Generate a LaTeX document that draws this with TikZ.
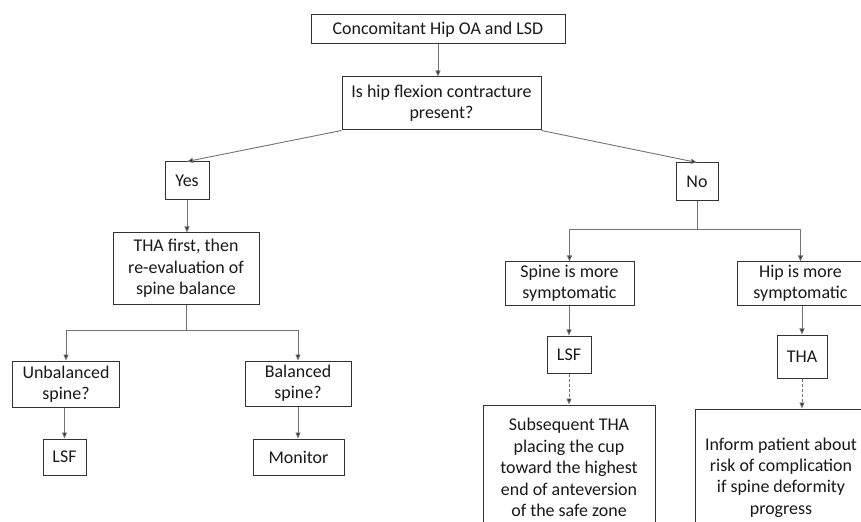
\documentclass[tikz,border=0pt]{standalone}
\usepackage{fontspec}
\setmainfont{Carlito}
\usetikzlibrary{arrows.meta}
\begin{document}
\begin{tikzpicture}[x=1bp,y=-1bp,
  box/.style={draw=black!80, line width=1bp, rectangle, inner sep=0pt, align=center,
    font=\fontsize{18}{21.5}\selectfont, text=black!90},
  conn/.style={draw=black!55, line width=0.9bp, -{Triangle[length=6bp,width=5bp,fill=black!85]}},
  dconn/.style={conn, dashed, dash pattern=on 3bp off 2bp}]
\clip (0,0) rectangle (861,522);
\fill[white] (0,0) rectangle (861,522);

\node[box, minimum width=254bp, minimum height=29bp] (top) at (438,29.5) {Concomitant Hip OA and LSD};
\node[box, minimum width=199bp, minimum height=53bp] (q) at (441.5,103.5) {Is hip flexion contracture\\present?};
\node[box, minimum width=44bp, minimum height=38bp] (yes) at (187,181) {Yes};
\node[box, minimum width=42bp, minimum height=38bp] (no) at (697,182) {No};
\node[box, minimum width=146bp, minimum height=71bp] (tha1) at (186,268.5) {THA first, then\\re-evaluation of\\spine balance};
\node[box, minimum width=106bp, minimum height=46bp] (unb) at (66,384) {Unbalanced\\spine?};
\node[box, minimum width=106bp, minimum height=45bp] (bal) at (298,383.5) {Balanced\\spine?};
\node[box, minimum width=43bp, minimum height=36bp] (lsfa) at (64.5,457) {LSF};
\node[box, minimum width=91bp, minimum height=36bp] (mon) at (298.5,457) {Monitor};
\node[box, minimum width=129bp, minimum height=43bp] (spine) at (569.5,283.5) {Spine is more\\symptomatic};
\node[box, minimum width=127bp, minimum height=43bp] (hip) at (800.5,283.5) {Hip is more\\symptomatic};
\node[box, minimum width=44bp, minimum height=37bp] (lsfb) at (569,354.5) {LSF};
\node[box, minimum width=50bp, minimum height=43bp] (tha2) at (802,356.5) {THA};
\node[box, minimum width=172bp, minimum height=125bp] (subs) at (569,467.5) {Subsequent THA\\placing the cup\\toward the highest\\end of anteversion\\of the safe zone};
\node[box, minimum width=172bp, minimum height=137bp] (inf) at (781,477.5) {Inform patient about\\risk of complication\\if spine deformity\\progress};

\draw[conn] (top.south) -- (top.south |- q.north);
\draw[conn] (q.south west) -- (yes.north);
\draw[conn] (q.south east) -- (no.north);
\draw[conn] (yes.south) -- (tha1.north -| yes.south);
\draw[conn] (tha1.south) -- ++(0,26) -| (unb.north);
\draw[conn] (tha1.south) -- ++(0,26) -| (bal.north);
\draw[conn] (unb.south -| lsfa.north) -- (lsfa.north);
\draw[conn] (bal.south) -- (mon.north -| bal.south);
\draw[conn] (no.south) -- ++(0,28) -| (spine.north);
\draw[conn] (no.south) -- ++(0,28) -| (hip.north);
\draw[conn] (spine.south -| lsfb.north) -- (lsfb.north);
\draw[conn] (hip.south -| tha2.north) -- (tha2.north);
\draw[dconn] (lsfb.south) -- (subs.north -| lsfb.south);
\draw[dconn] (tha2.south) -- (inf.north -| tha2.south);
\end{tikzpicture}
\end{document}
